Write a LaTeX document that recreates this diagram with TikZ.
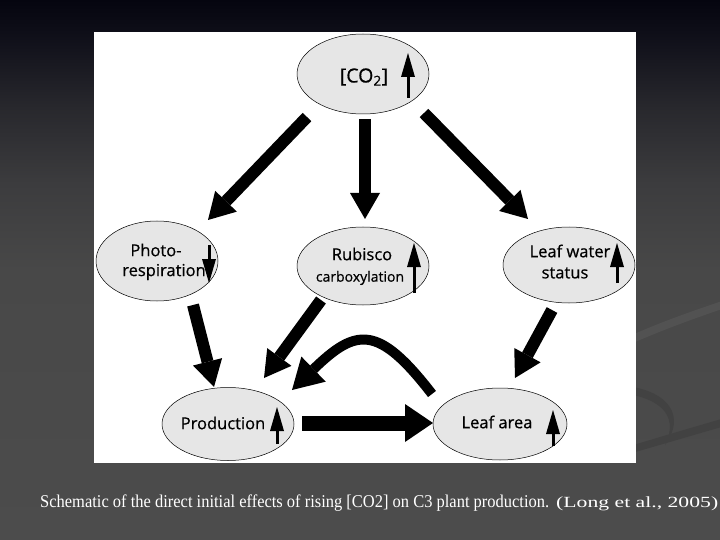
\documentclass[tikz,border=0pt]{standalone}
\usepackage{fontspec}
\usepackage{graphicx}
\setmainfont{Liberation Serif}
\newfontfamily\diagfont{Open Sans}[FakeBold=0.6]
\usetikzlibrary{arrows.meta,shapes.geometric}
\definecolor{bgA}{RGB}{5,5,15}
\definecolor{bgB}{RGB}{14,14,24}
\definecolor{bgC}{RGB}{40,40,45}
\definecolor{bgD}{RGB}{60,60,62}
\definecolor{bgE}{RGB}{72,72,72}
\definecolor{bgF}{RGB}{76,76,76}
\definecolor{swlight}{RGB}{82,82,82}
\definecolor{swdark}{RGB}{66,66,66}
\definecolor{ellfill}{RGB}{230,230,230}
\pgfdeclareverticalshading{slidebg}{100bp}{color(0bp)=(bgF); color(25bp)=(bgF); color(50bp)=(bgE); color(58bp)=(bgD); color(65bp)=(bgC); color(72bp)=(bgB); color(75bp)=(bgA); color(100bp)=(bgA)}
\tikzset{
  bub/.style={ellipse, draw=black, line width=0.5pt, fill=ellfill, inner sep=0pt},
  lbl/.style={font=\diagfont\fontsize{16.5}{18}\selectfont, inner sep=0pt, align=center},
  bigarrow/.style={line width=12pt, -{Triangle[length=26pt,width=30pt,line width=0pt]}},
  widearrow/.style={line width=15pt, -{Triangle[length=28pt,width=38pt,line width=0pt]}},
  curvearrow/.style={line width=10pt, -{Triangle[length=30pt,width=35pt,line width=0pt]}},
  tinyarrow/.style={line width=3pt, -{Triangle[length=24pt,width=14pt,line width=0pt]}},
  captxt/.style={anchor=base west, inner sep=0pt, text=white}
}
\begin{document}
\begin{tikzpicture}[x=1pt,y=-1pt]
\useasboundingbox (0,0) rectangle (720,540);
\shade[shading=slidebg] (0,0) rectangle (720,540);
% faint background swooshes
\fill[swlight] (600,350) .. controls (650,325) and (690,312) .. (725,300) -- (725,308) .. controls (690,320) and (650,334) .. (600,358) -- cycle;
\fill[swdark] (610,385) .. controls (660,385) and (690,410) .. (665,445) .. controls (680,415) and (660,395) .. (610,392) -- cycle;
\fill[swdark] (600,455) .. controls (650,440) and (690,428) .. (725,418) -- (725,426) .. controls (690,436) and (650,448) .. (600,462) -- cycle;
% panel
\fill[white] (94,32) rectangle (636,463);
% ellipses
\node[bub, minimum width=132pt, minimum height=80pt] (co2) at (363,74) {};
\node[bub, minimum width=122pt, minimum height=80pt] (photo) at (157,261) {};
\node[bub, minimum width=132pt, minimum height=78pt] (rub) at (363,266) {};
\node[bub, minimum width=132pt, minimum height=76pt] (lw) at (569,265) {};
\node[bub, minimum width=132pt, minimum height=73pt] (prod) at (228,424) {};
\node[bub, minimum width=134pt, minimum height=72pt] (la) at (500,424) {};
% labels
\node[lbl, font=\diagfont\fontsize{19.5}{21}\selectfont] (co2t) at (364,77) {[CO\textsubscript{2}]};
\node[lbl] (photot1) at (156,250) {Photo-};
\node[lbl] (photot2) at (164,272) {respiration};
\node[lbl] (rubt1) at (362,254) {Rubisco};
\node[lbl, font=\diagfont\fontsize{14}{16}\selectfont] (rubt2) at (360,278) {carboxylation};
\node[lbl] (lwt1) at (570,251) {Leaf water};
\node[lbl] (lwt2) at (565,273) {status};
\node[lbl] (prodt) at (223,423) {Production};
\node[lbl] (lat) at (497,422) {Leaf area};
% small arrows inside ellipses
\draw[tinyarrow] ([shift={(45,24)}]co2.center) -- ([shift={(45,-21)}]co2.center);
\draw[tinyarrow] ([shift={(52,-16)}]photo.center) -- ([shift={(52,22)}]photo.center);
\draw[tinyarrow] ([shift={(51,27)}]rub.center) -- ([shift={(51,-23)}]rub.center);
\draw[tinyarrow] ([shift={(48,18)}]lw.center) -- ([shift={(48,-22)}]lw.center);
\draw[tinyarrow] ([shift={(49,20)}]prod.center) -- ([shift={(49,-17)}]prod.center);
\draw[tinyarrow] ([shift={(53,22)}]la.center) -- ([shift={(53,-14)}]la.center);
% big connectors
\draw[bigarrow] ([shift={(-56,43)}]co2.center) -- ([shift={(51,-41)}]photo.center);
\draw[bigarrow] ([shift={(2,45)}]co2.center) -- ([shift={(2,-47)}]rub.center);
\draw[bigarrow] ([shift={(61,39)}]co2.center) -- ([shift={(-41,-46)}]lw.center);
\draw[bigarrow] ([shift={(36,44)}]photo.center) -- ([shift={(-14,-37)}]prod.center);
\draw[bigarrow] ([shift={(-42,34)}]rub.center) -- ([shift={(36,-46)}]prod.center);
\draw[bigarrow] ([shift={(-17,45)}]lw.center) -- ([shift={(15,-46)}]la.center);
\draw[widearrow] ([shift={(74,-1)}]prod.center) -- ([shift={(-67,-1)}]la.center);
\draw[curvearrow] ([shift={(-68,-30)}]la.center) .. controls ([shift={(-122,-100)}]la.center) and ([shift={(128,-96)}]prod.center) .. ([shift={(64,-34)}]prod.center);
% caption
\node[captxt] (cap) at (40,507) {\resizebox{509pt}{\height}{\fontsize{18}{20}\selectfont Schematic of the direct initial effects of rising [CO2] on C3 plant production.}};
\node[captxt] (ref) at (556,507) {\resizebox{162pt}{\height}{\fontsize{15.5}{17}\selectfont (Long et al., 2005)}};
\end{tikzpicture}
\end{document}
